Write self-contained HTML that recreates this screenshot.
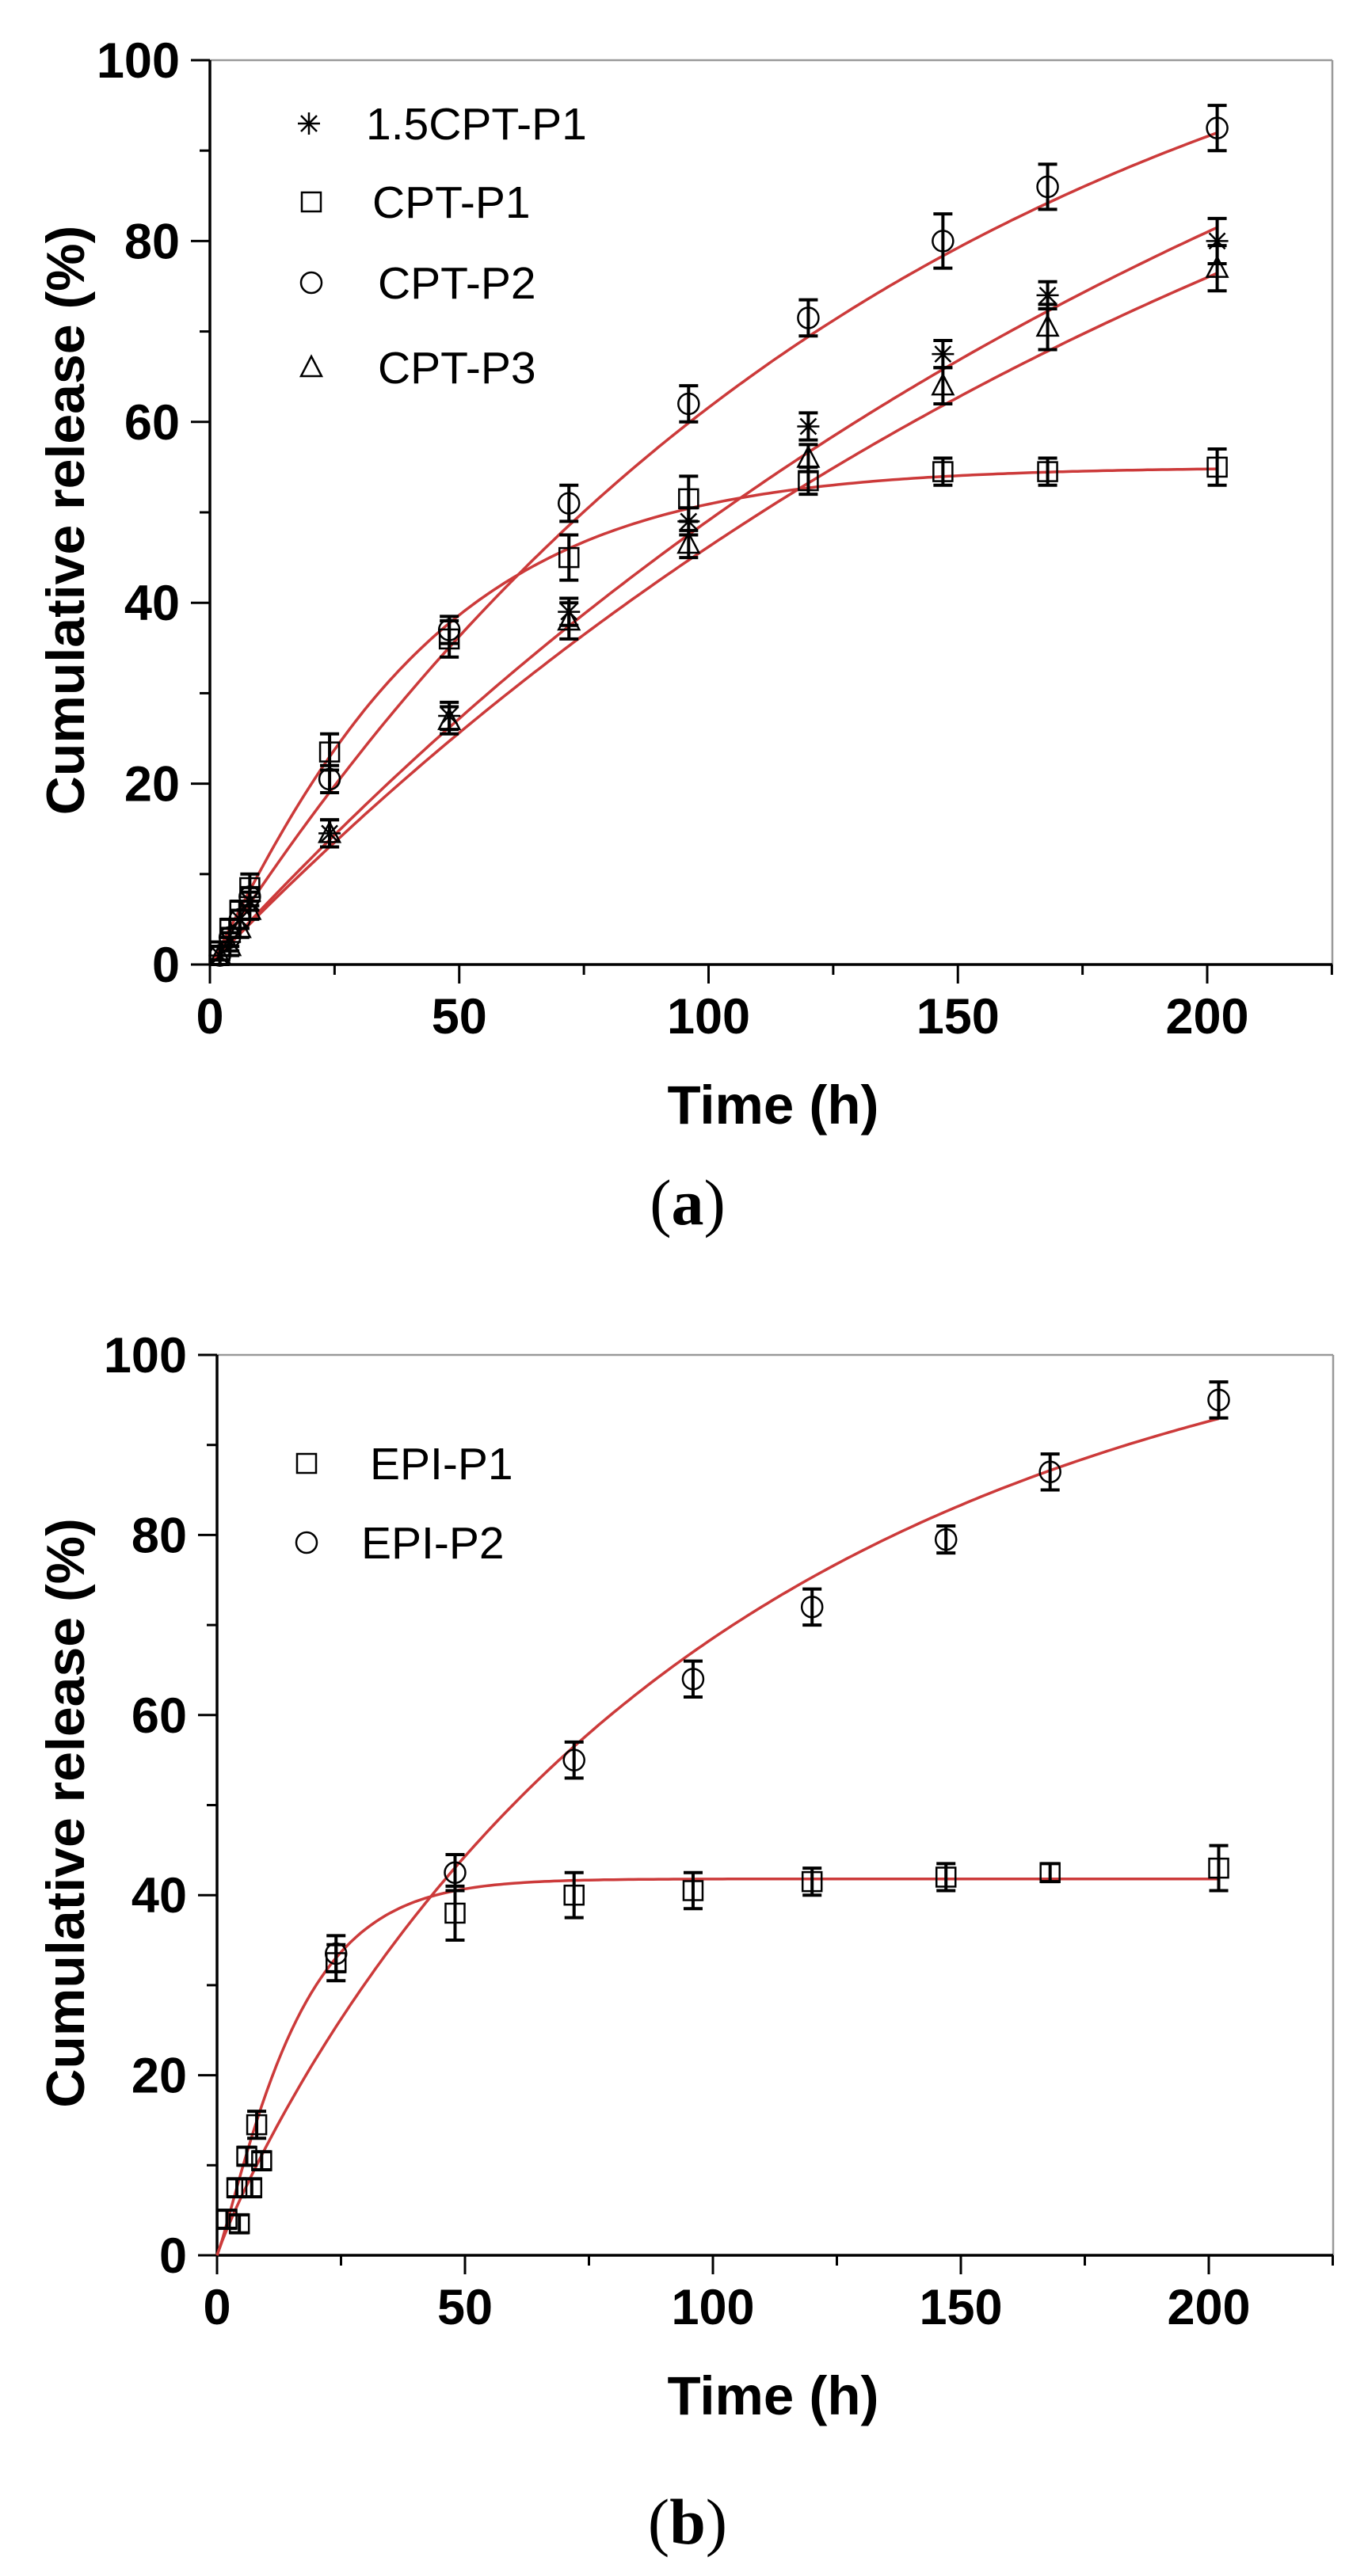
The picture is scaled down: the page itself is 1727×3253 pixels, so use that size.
<!DOCTYPE html>
<html><head><meta charset="utf-8"><style>
html,body{margin:0;padding:0;background:#fff;}
svg{display:block;}
</style></head><body>
<svg id="s" width="1727" height="3253" xmlns="http://www.w3.org/2000/svg" font-family="Liberation Sans, Arial, sans-serif"></svg>
<script>
const s=document.getElementById('s');let h='';
function panel(o){
 const {x0,x200,y0,y100,xr}=o;
 const X=t=>x0+(x200-x0)*t/200, Y=v=>y0+(y100-y0)*v/100;
 h+=`<line x1="${x0}" y1="${y100}" x2="${xr}" y2="${y100}" stroke="#999" stroke-width="2.5"/>`;
 h+=`<line x1="${xr}" y1="${y100}" x2="${xr}" y2="${y0}" stroke="#999" stroke-width="2.5"/>`;
 h+=`<line x1="${x0}" y1="${y100}" x2="${x0}" y2="${y0+1.5}" stroke="#000" stroke-width="3.5"/>`;
 h+=`<line x1="${x0}" y1="${y0}" x2="${xr}" y2="${y0}" stroke="#000" stroke-width="3.5"/>`;
 for(let v=0;v<=100;v+=10){const L=v%20==0?24:13;h+=`<line x1="${x0-L}" y1="${Y(v)}" x2="${x0}" y2="${Y(v)}" stroke="#000" stroke-width="3"/>`;
  if(v%20==0)h+=`<text x="${x0-38}" y="${Y(v)+22}" text-anchor="end" font-size="63" font-weight="bold">${v}</text>`;}
 for(let t=0;t<=225;t+=25){const L=t%50==0?24:13;h+=`<line x1="${X(t)}" y1="${y0}" x2="${X(t)}" y2="${y0+L}" stroke="#000" stroke-width="3"/>`;
  if(t%50==0&&t<=200)h+=`<text x="${X(t)}" y="${y0+87}" text-anchor="middle" font-size="63" font-weight="bold">${t}</text>`;}
 h+=`<text x="976" y="${y0+201}" text-anchor="middle" font-size="69" font-weight="bold">Time (h)</text>`;
 h+=`<text transform="translate(106,${(y0+y100)/2+10}) rotate(-90)" text-anchor="middle" font-size="68" font-weight="bold">Cumulative release (%)</text>`;
 h+=`<text x="868" y="${o.capY}" text-anchor="middle" font-size="82" font-family="Liberation Serif, serif">(<tspan font-weight="bold">${o.cap}</tspan>)</text>`;
 for(const f of o.curves){let d='';for(let t=0;t<=202;t+=1){d+=(t?'L':'M')+X(t).toFixed(1)+','+Y(f(t)).toFixed(1);}
  h+=`<path d="${d}" fill="none" stroke="#cc3a3a" stroke-width="3.5"/>`;}
 for(const sr of o.series){for(const [t,v,e] of sr.pts){const cx=X(t),cy=Y(v),ee=(y0-y100)*e/100;
   h+=`<path d="M${cx},${cy-ee}V${cy+ee}M${cx-12},${cy-ee}H${cx+12}M${cx-12},${cy+ee}H${cx+12}" stroke="#000" stroke-width="4" fill="none"/>`;
   h+=marker(sr.m,cx,cy);}}
 for(const l of o.legend){h+=marker(l.m,l.x,l.y);h+=`<text x="${l.tx}" y="${l.y+20}" font-size="57">${l.t}</text>`;}
}
function marker(m,x,y){const st='fill="none" stroke="#000" stroke-width="2.5"';
 if(m=='s')return `<rect x="${x-12}" y="${y-12}" width="24" height="24" ${st}/>`;
 if(m=='c')return `<circle cx="${x}" cy="${y}" r="13" ${st}/>`;
 if(m=='t')return `<path d="M${x},${y-14}L${x+13},${y+11}L${x-13},${y+11}Z" ${st}/>`;
 return `<path d="M${x-14},${y}H${x+14}M${x},${y-14}V${y+14}M${x-10},${y-10}L${x+10},${y+10}M${x-10},${y+10}L${x+10},${y-10}" ${st}/>`;}
const W=(A,k,n)=>t=>A*(1-Math.exp(-k*Math.pow(t,n)));
const T=[2,4,6,8,24,48,72,96,120,147,168,202];
const mk=(vals,es)=>vals.map((v,i)=>[T[i],v,es[i]]);
panel({x0:265,x200:1524,y0:1218,y100:76,xr:1682,cap:'a',capY:1546,
 curves:[W(120,0.0072,1),W(140,0.00432,1),W(130,0.00439,1),W(55,0.0164,1.1)],
 series:[
 {m:'x',pts:mk([1,2.5,5,7,14.5,27.5,39,49,59.5,67.5,74,80],[1,1,1,1,1.5,1.5,1.5,1.5,1.5,1.5,1.5,2.5])},
 {m:'s',pts:mk([1.5,4,6,8.5,23.5,36,45,51.5,53.5,54.5,54.5,55],[1,1,1,1.5,2,2,2.5,2.5,1.5,1.5,1.5,2])},
 {m:'c',pts:mk([1,3,5,7.5,20.5,37,51,62,71.5,80,86,92.5],[1,1,1,1,1.5,1.5,2,2,2,3,2.5,2.5])},
 {m:'t',pts:mk([1,2,4,6,14.5,27,38,46.5,56,64,70.5,77],[1,1,1,1,1.5,1.5,2,1.5,1.5,2,2.5,2.5])}],
 legend:[{m:'x',x:390,y:156,tx:462,t:'1.5CPT-P1'},{m:'s',x:393,y:255,tx:470,t:'CPT-P1'},{m:'c',x:393,y:357,tx:477,t:'CPT-P2'},{m:'t',x:393,y:464,tx:477,t:'CPT-P3'}]});
panel({x0:274,x200:1526,y0:2848,y100:1711,xr:1683,cap:'b',capY:3212,
 curves:[W(110,0.0141,0.92),W(41.8,0.0404,1.15)],
 series:[
 {m:'c',pts:[[24,33.5,2],[48,42.5,2],[72,55,2],[96,64,2],[120,72,2],[147,79.5,1.5],[168,87,2],[202,95,2]]},
 {m:'s',pts:[[2,4,1],[4,7.5,1],[4.5,3.5,1],[6,11,1],[7,7.5,1],[8,14.5,1.5],[9,10.5,1],[24,32.5,2],[48,38,3],[72,40,2.5],[96,40.5,2],[120,41.5,1.5],[147,42,1.5],[168,42.5,1],[202,43,2.5]]}],
 legend:[{m:'s',x:387,y:1848,tx:467,t:'EPI-P1'},{m:'c',x:387,y:1948,tx:456,t:'EPI-P2'}]});
s.innerHTML=h;
</script>
</body></html>
